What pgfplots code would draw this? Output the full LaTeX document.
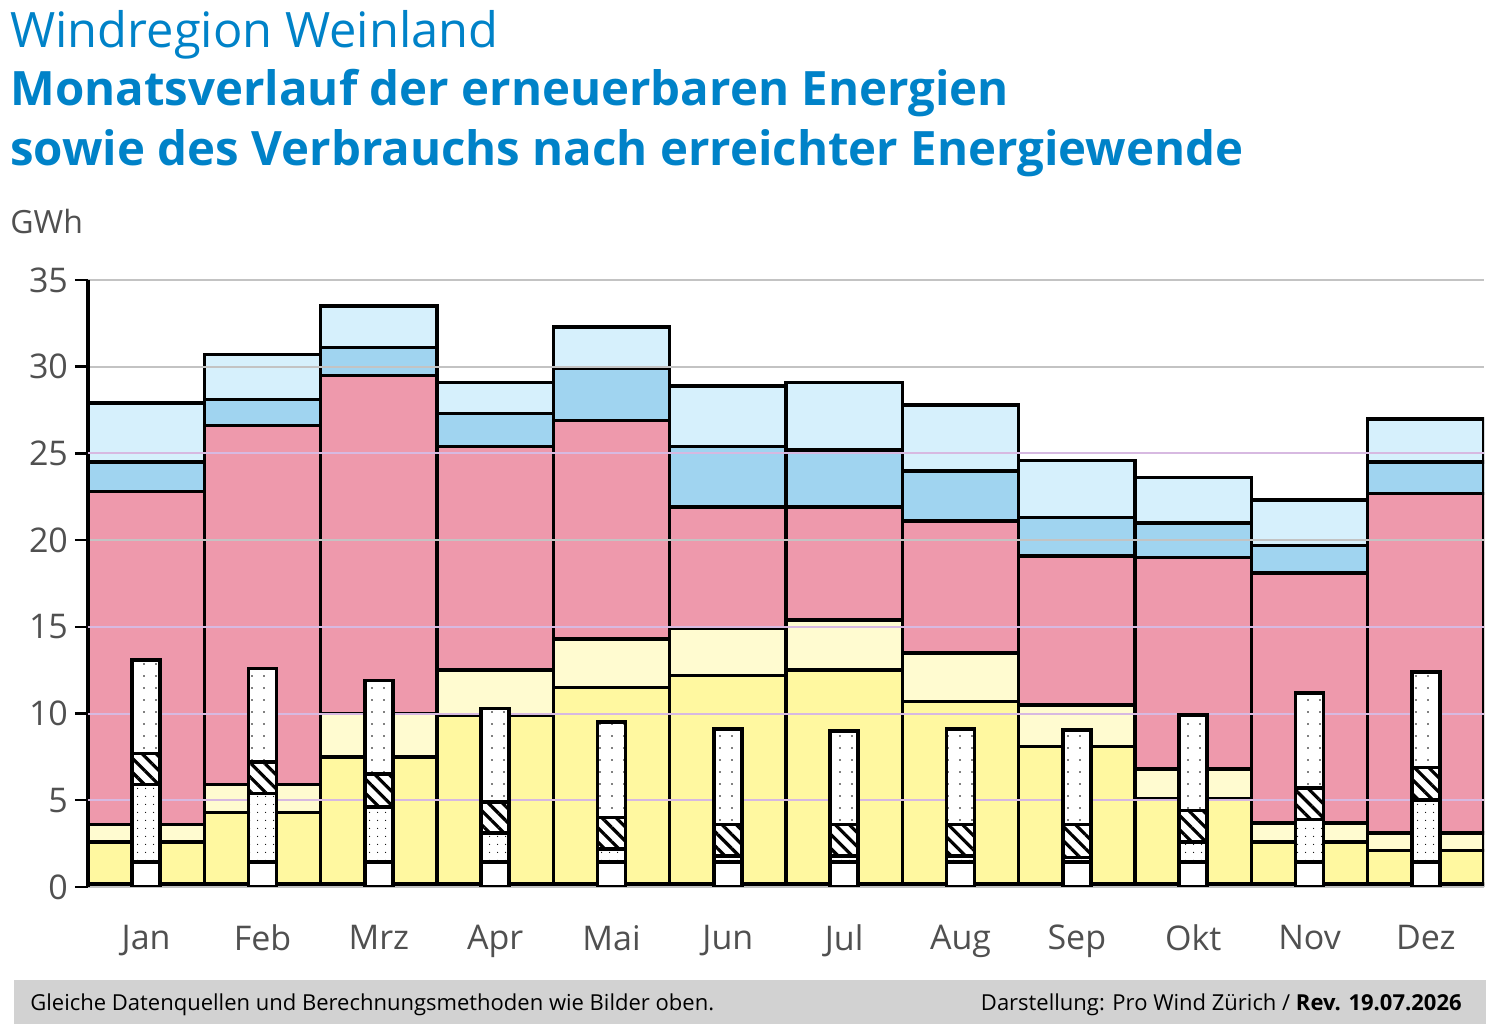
\documentclass[border=0pt]{standalone}
\usepackage{pgfplots}
\pgfplotsset{compat=1.18}
\usetikzlibrary{patterns,patterns.meta}
\usepackage{fontspec}
\setmainfont{Open Sans}
\definecolor{tblue}{RGB}{0,130,200}
\definecolor{cy}{RGB}{255,248,160}
\definecolor{cly}{RGB}{255,251,208}
\definecolor{cp}{RGB}{238,153,172}
\definecolor{cb}{RGB}{160,212,240}
\definecolor{clb}{RGB}{214,240,252}
\definecolor{lav}{RGB}{215,185,225}
\definecolor{gr}{RGB}{195,195,195}
\definecolor{txt}{RGB}{80,80,80}
\begin{document}
\begin{tikzpicture}
\useasboundingbox (0pt,0pt) rectangle (749pt,518pt);
\pgfplotsset{base/.style={
  at={(44pt,74.5pt)}, anchor=origin, scale only axis, width=698pt, height=303.5pt,
  xmin=0.5, xmax=12.5, ymin=0, ymax=35, ybar stacked, bar width=1,
  every axis plot/.append style={draw=black, line width=1.8pt},
}}
\begin{axis}[base, axis lines=none, bar shift=0pt]
\addplot[fill=black] coordinates {(1,0.2)(2,0.2)(3,0.2)(4,0.2)(5,0.2)(6,0.2)(7,0.2)(8,0.2)(9,0.2)(10,0.2)(11,0.2)(12,0.2)};
\addplot[fill=cy] coordinates {(1,2.4)(2,4.1)(3,7.3)(4,9.7)(5,11.3)(6,12.0)(7,12.3)(8,10.5)(9,7.9)(10,4.9)(11,2.4)(12,1.9)};
\addplot[fill=cly] coordinates {(1,1.0)(2,1.6)(3,2.5)(4,2.6)(5,2.8)(6,2.7)(7,2.9)(8,2.8)(9,2.4)(10,1.7)(11,1.1)(12,1.0)};
\addplot[fill=cp] coordinates {(1,19.2)(2,20.7)(3,19.5)(4,12.9)(5,12.6)(6,7.0)(7,6.5)(8,7.6)(9,8.6)(10,12.2)(11,14.4)(12,19.6)};
\addplot[fill=cb] coordinates {(1,1.7)(2,1.5)(3,1.6)(4,1.9)(5,3.0)(6,3.5)(7,3.3)(8,2.9)(9,2.2)(10,2.0)(11,1.6)(12,1.8)};
\addplot[fill=clb] coordinates {(1,3.4)(2,2.6)(3,2.4)(4,1.8)(5,2.4)(6,3.5)(7,3.9)(8,3.8)(9,3.3)(10,2.6)(11,2.6)(12,2.5)};
\end{axis}
\begin{axis}[base, bar width=0.24, bar shift=0pt,
  axis y line*=left, axis x line*=bottom,
  x axis line style={draw=none}, y axis line style={line width=1.6pt},
  xtick={1,...,12}, xticklabels={Jan,Feb,Mrz,Apr,Mai,Jun,Jul,Aug,Sep,Okt,Nov,Dez},
  x tick style={draw=none}, xticklabel style={yshift=-9pt},
  ytick={0,5,...,35}, tick align=outside, major tick length=6.5pt,
  y tick style={black, line width=1.2pt},
  ymajorgrids, major grid style={gr, line width=1pt},
  extra y ticks={5,10,15,25}, extra y tick labels={},
  extra y tick style={grid=major, major grid style={lav, line width=1pt}, tick style={draw=none}},
  ticklabel style={font=\fontsize{17}{20}\selectfont, text=txt},
  /pgf/number format/assume math mode=true,
]
\addplot[fill=white] coordinates {(1,1.45)(2,1.45)(3,1.45)(4,1.45)(5,1.45)(6,1.45)(7,1.45)(8,1.45)(9,1.45)(10,1.45)(11,1.45)(12,1.45)};
\addplot[fill=white, postaction={pattern={Dots[distance=4pt,radius=0.35pt,xshift=1pt]}}] coordinates {(1,4.45)(2,3.95)(3,3.15)(4,1.65)(5,0.75)(6,0.35)(7,0.35)(8,0.35)(9,0.25)(10,1.15)(11,2.45)(12,3.55)};
\addplot[fill=white, postaction={pattern={Lines[angle=-45,distance=5pt,line width=1.6pt]}}] coordinates {(1,1.8)(2,1.8)(3,1.9)(4,1.8)(5,1.8)(6,1.8)(7,1.8)(8,1.8)(9,1.9)(10,1.8)(11,1.8)(12,1.9)};
\addplot[fill=white, postaction={pattern={Dots[distance=6pt,radius=0.45pt]}}] coordinates {(1,5.4)(2,5.4)(3,5.4)(4,5.4)(5,5.5)(6,5.5)(7,5.4)(8,5.5)(9,5.45)(10,5.5)(11,5.5)(12,5.5)};
\end{axis}
\node[anchor=base west, inner sep=0, text=tblue, font=\fontsize{24.4}{28}\selectfont] at (5pt,494pt) {Windregion Weinland};
\node[anchor=base west, inner sep=0, text=tblue, font=\bfseries\fontsize{23.7}{28}\selectfont] at (5pt,465pt) {Monatsverlauf der erneuerbaren Energien};
\node[anchor=base west, inner sep=0, text=tblue, font=\bfseries\fontsize{23.7}{28}\selectfont] at (5pt,435pt) {sowie des Verbrauchs nach erreichter Energiewende};
\node[anchor=base west, inner sep=0, text=txt, font=\fontsize{16}{19}\selectfont] at (5pt,401pt) {GWh};
\fill[gr!75] (7pt,6pt) rectangle (743pt,28pt);
\node[anchor=base west, inner sep=0, font=\fontsize{11}{13}\selectfont] at (15pt,12.5pt) {Gleiche Datenquellen und Berechnungsmethoden wie Bilder oben.};
\node[anchor=base east, inner sep=0, font=\fontsize{11}{13}\selectfont] at (731pt,12.5pt) {Darstellung: Pro Wind Zürich / \textbf{Rev. 19.07.2026}};
\end{tikzpicture}
\end{document}
